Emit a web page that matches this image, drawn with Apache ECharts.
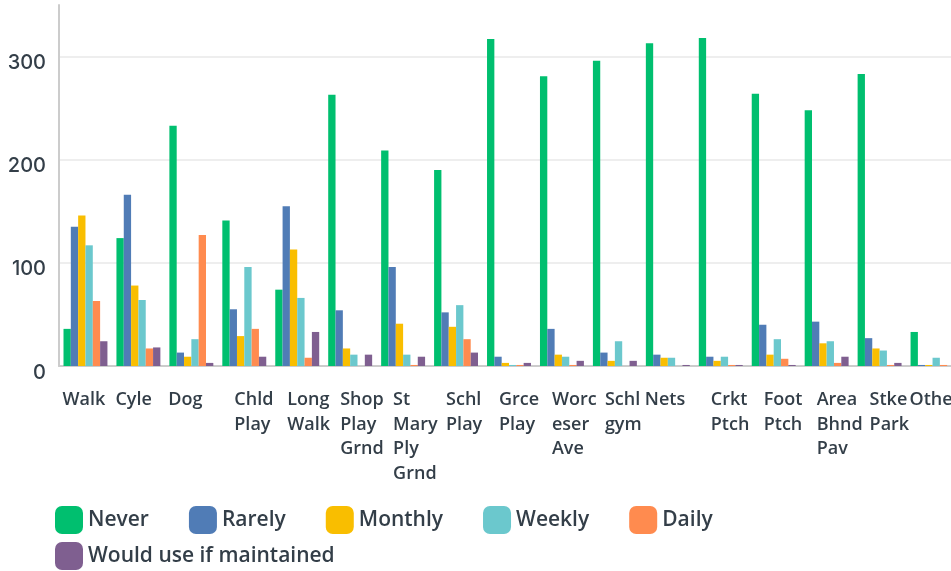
<!DOCTYPE html>
<html>
<head>
<meta charset="utf-8">
<script src="https://cdn.jsdelivr.net/npm/echarts@6/dist/echarts.min.js"></script>
<style>
  html, body { margin: 0; padding: 0; background: #fff; }
  #main { width: 951px; height: 571px; }
</style>
</head>
<body>
<div id="main"></div>
<script>
// categories (line breaks as in the source chart)
var categories = ['Walk', 'Cyle', 'Dog', 'Chld\nPlay', 'Long\nWalk', 'Shop\nPlay\nGrnd',
    'St\nMary\nPly\nGrnd', 'Schl\nPlay', 'Grce\nPlay', 'Worc\neser\nAve', 'Schl\ngym', 'Nets',
    'Crkt\nPtch', 'Foot\nPtch', 'Area\nBhnd\nPav', 'Stke\nPark', 'Other'];

var seriesNames = ['Never', 'Rarely', 'Monthly', 'Weekly', 'Daily', 'Would use if maintained'];

var never   = [36, 124, 233, 141, 74, 263, 209, 190, 317, 281, 296, 313, 318, 264, 248, 283, 33];
var rarely  = [135, 166, 13, 55, 155, 54, 96, 52, 9, 36, 13, 11, 9, 40, 43, 27, 1];
var monthly = [146, 78, 9, 29, 113, 17, 41, 38, 3, 11, 5, 8, 5, 11, 22, 17, 1];
var weekly  = [117, 64, 26, 96, 66, 11, 11, 59, 1, 9, 24, 8, 9, 26, 24, 15, 8];
var daily   = [63, 17, 127, 36, 8, 0, 1, 26, 1, 1, 0, 0, 1, 7, 3, 1, 1];
var maint   = [24, 18, 3, 9, 33, 11, 9, 13, 3, 5, 5, 1, 1, 1, 9, 3, 0];

var yTicks = [0, 100, 200, 300];

var colors = ['#00bf6f', '#507cb6', '#f9be00', '#6bc8cd', '#ff8b4f', '#7f5f90'];
var txt = '#333e48';

var chart = echarts.init(document.getElementById('main'));

var allData = [never, rarely, monthly, weekly, daily, maint];
var series = seriesNames.map(function (n, i) {
    return {
        name: n,
        type: 'bar',
        barGap: 0,
        barCategoryGap: '17%',
        itemStyle: { color: colors[i] },
        data: allData[i]
    };
});

var labelFont = { fontFamily: 'Open Sans', fontSize: 18, fontWeight: 600, color: txt, lineHeight: 24.5 };
var legendText = { fontFamily: 'Open Sans', fontSize: 21, fontWeight: 600, color: txt };

var option = {
    animation: false,
    color: colors,
    grid: { left: 59, top: 5, width: 900, bottom: 205, containLabel: false, outerBoundsMode: 'none' },
    legend: [{
        left: 55, top: 506, padding: 0,
        itemWidth: 28, itemHeight: 28, itemGap: 40,
        icon: 'roundRect',
        textStyle: legendText,
        data: seriesNames.slice(0, 5)
    }, {
        left: 55, top: 542, padding: 0,
        itemWidth: 28, itemHeight: 28,
        icon: 'roundRect',
        textStyle: legendText,
        data: seriesNames.slice(5)
    }],
    xAxis: {
        type: 'category',
        data: categories,
        axisLine: { lineStyle: { color: '#cccccc', width: 2 } },
        axisTick: { show: false },
        axisLabel: {
            interval: 0,
            margin: 22,
            align: 'center',
            hideOverlap: false,
            formatter: function (v) {
                var lines = v.split('\n');
                var key = lines.length > 1 ? 'm' : 's';
                return lines.map(function (l) { return '{' + key + '|' + l + '}'; }).join('\n');
            },
            rich: {
                s: Object.assign({ width: 46, align: 'left' }, labelFont),
                m: Object.assign({ width: 20, align: 'left' }, labelFont)
            }
        }
    },
    yAxis: {
        type: 'value',
        min: yTicks[0],
        max: 350,
        interval: 100,
        axisLine: { show: true, lineStyle: { color: '#cccccc', width: 2 } },
        axisTick: { show: false },
        axisLabel: {
            margin: 13,
            verticalAlign: 'top',
            lineHeight: 13,
            showMaxLabel: false,
            fontFamily: 'Inter', fontSize: 20, fontWeight: 500, color: txt
        },
        splitLine: { showMaxLine: false, lineStyle: { color: '#eeeeee', width: 2 } }
    },
    series: series
};

chart.setOption(option);
</script>
</body>
</html>
